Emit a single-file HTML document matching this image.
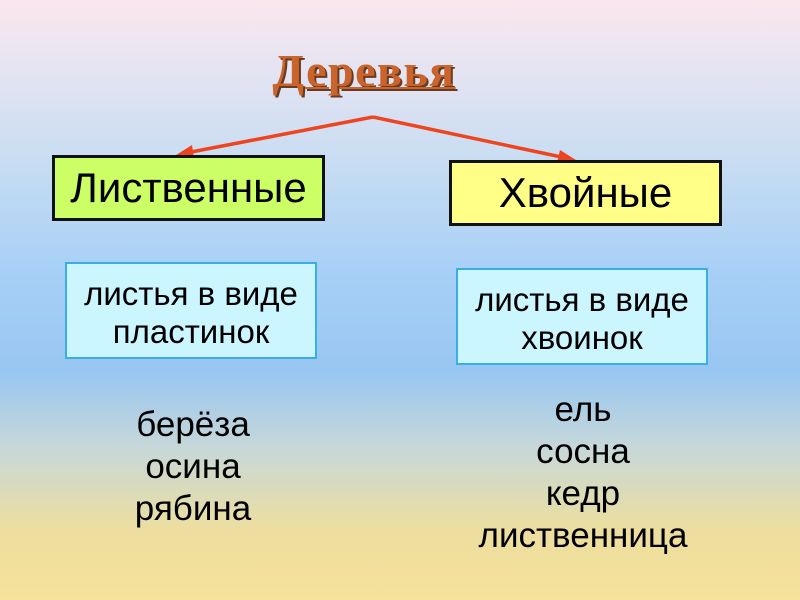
<!DOCTYPE html>
<html><head><meta charset="utf-8"><style>
body{margin:0;width:800px;height:600px;overflow:hidden;font-family:"Liberation Sans",sans-serif;
background:linear-gradient(to bottom,#fbe6ee 0%,#e4e4f2 12%,#c6dcf2 28%,#a8d0f6 45%,#98c6f2 62%,#c8d8d8 75%,#ecdea0 88%,#f6e29a 100%);position:relative}
.a{position:absolute;box-sizing:border-box;text-align:center;color:#000}
.t{font-family:"Liberation Serif",serif;font-weight:bold;font-size:46px;color:#c8642c;text-decoration:underline;text-decoration-thickness:2px;text-shadow:2px 2px 0 #6a3a20;left:214px;top:44px;width:300px;letter-spacing:1.5px}
.b{border:3px solid #111;font-size:42px;line-height:59px}
.c{border:2px solid #3aaee0;background:#ccf6ff;font-size:33px;line-height:38px;padding-top:11px}
.l{font-size:35px;line-height:42px}
</style></head><body>
<div class="a t">Деревья</div>
<svg class="a" style="left:0;top:0" width="800" height="600">
<g stroke="#ee4520" stroke-width="3.5" fill="none"><line x1="373" y1="117" x2="186" y2="153"/><line x1="373" y1="117" x2="566" y2="158"/></g>
<polygon points="176,155 192,145 194,158" fill="#ee4520"/>
<polygon points="576,160 560,150 557,163" fill="#ee4520"/>
</svg>
<div class="a b" style="left:52px;top:155px;width:273px;height:66px;background:#ccff66">Лиственные</div>
<div class="a b" style="left:449px;top:160px;width:273px;height:66px;background:#ffff88">Хвойные</div>
<div class="a c" style="left:65px;top:262px;width:252px;height:97px">листья в виде<br>пластинок</div>
<div class="a c" style="left:456px;top:268px;width:252px;height:97px">листья в виде<br>хвоинок</div>
<div class="a l" style="left:93px;top:404px;width:200px">берёза<br>осина<br>рябина</div>
<div class="a l" style="left:433px;top:389px;width:300px">ель<br>сосна<br>кедр<br>лиственница</div>
</body></html>
